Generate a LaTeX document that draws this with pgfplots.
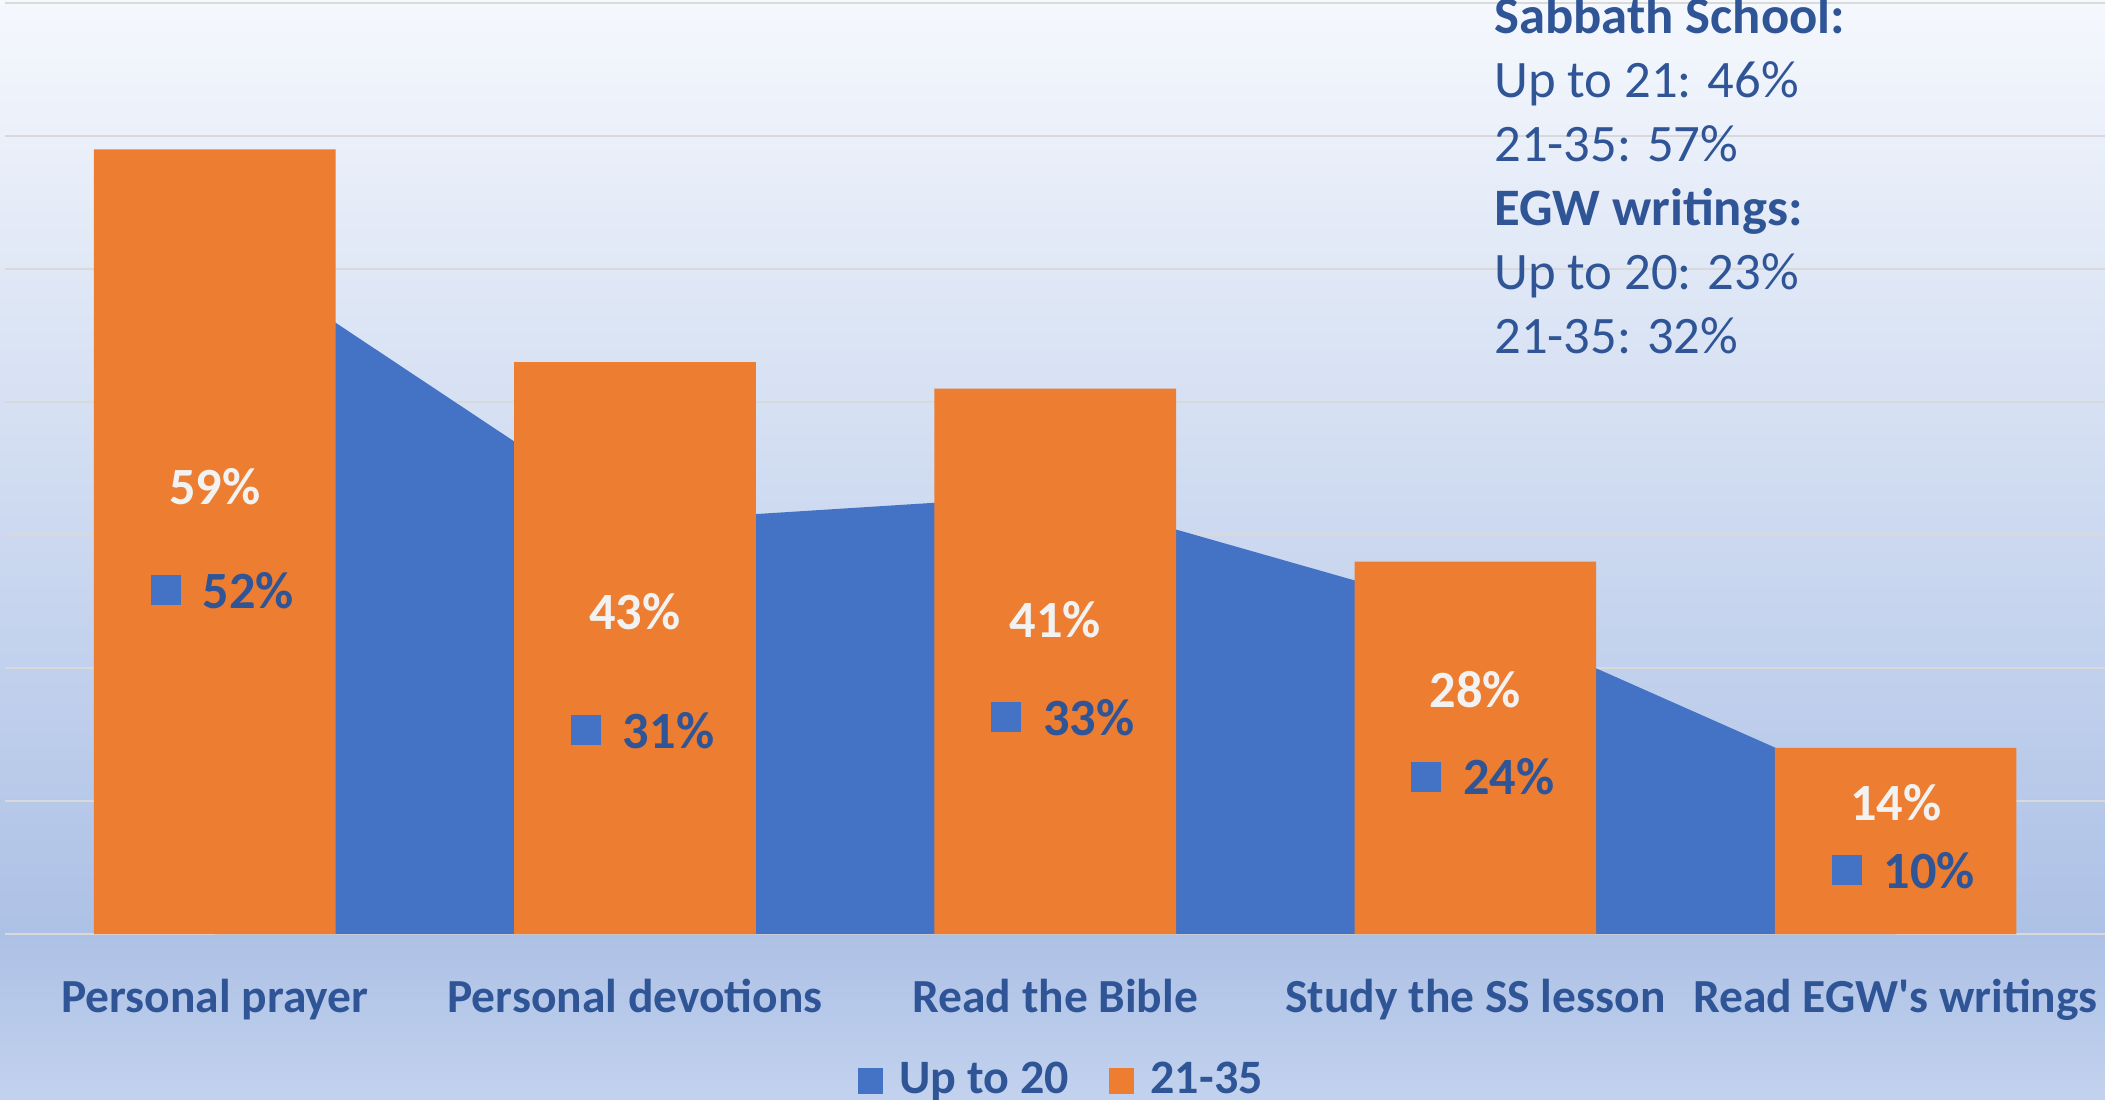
\documentclass[border=0pt]{standalone}
\usepackage{pgfplots}
\pgfplotsset{compat=1.18}
\usepackage{fontspec}
\setmainfont{Carlito}
\definecolor{myblue}{HTML}{4472C4}
\definecolor{myorange}{HTML}{ED7D31}
\definecolor{txtblue}{HTML}{2F5597}
\definecolor{gridc}{HTML}{D9D9D9}
\definecolor{bgtop}{HTML}{F5F8FD}
\definecolor{bgmid}{HTML}{ADC1E6}
\definecolor{bgbot}{HTML}{C2D2EE}
\begin{document}
\begin{tikzpicture}
\shade[top color=bgtop, bottom color=bgmid] (0pt,0pt) rectangle (631.5pt,-280.2pt);
\shade[top color=bgmid, bottom color=bgbot] (0pt,-280.2pt) rectangle (631.5pt,-329.7pt);
\begin{axis}[
  at={(1.41pt,-280.2pt)}, anchor=south west,
  scale only axis, width=630.3pt, height=279.3pt,
  xmin=-0.5, xmax=4.5, ymin=0, ymax=70,
  axis line style={draw=none},
  major tick length=0pt,
  ytick={0,10,...,70}, yticklabels={},
  ymajorgrids, grid style={gridc, line width=0.6pt},
  xtick={0,1,2,3,4},
  xticklabels={Personal prayer, Personal devotions, Read the Bible, Study the SS lesson, Read EGW\textquotesingle s writings},
  xticklabel style={font=\fontsize{14.25}{16}\selectfont\bfseries, text=txtblue, anchor=base, yshift=-23.4pt},
  legend columns=2,
  legend style={at={(0.504,-0.157)}, anchor=center, draw=none, fill=none,
    font=\fontsize{14.4}{16}\selectfont\bfseries, text=txtblue,
    /tikz/every odd column/.append style={column sep=3pt},
    /tikz/every even column/.append style={column sep=10pt}},
  legend image code/.code={\fill[#1] (0pt,-4.2pt) rectangle (7.5pt,3.8pt);},
]
\addplot[fill=myblue, draw=none] coordinates {(0,52) (1,31) (2,33) (3,24) (4,10)} \closedcycle;
\addlegendentry{Up to 20}
\addplot[ybar, bar width=0.575, fill=myorange, draw=none] coordinates {(0,59) (1,43) (2,41) (3,28) (4,14)};
\addlegendentry{21-35}
\begin{scope}[every node/.style={font=\fontsize{15.7}{18}\selectfont\bfseries, inner sep=0pt}]
\node[text=white!95!black] at (axis cs:0,33.6) {59\%};
\node[text=white!95!black] at (axis cs:1,24.2) {43\%};
\node[text=white!95!black] at (axis cs:2,23.6) {41\%};
\node[text=white!95!black] at (axis cs:3,18.4) {28\%};
\node[text=white!95!black] at (axis cs:4,9.9) {14\%};
\node[text=txtblue] at (axis cs:0.018,25.8) {\raisebox{1pt}{\textcolor{myblue}{\rule{9pt}{9pt}}}\hspace{6.6pt}52\%};
\node[text=txtblue] at (axis cs:1.018,15.3) {\raisebox{1pt}{\textcolor{myblue}{\rule{9pt}{9pt}}}\hspace{6.6pt}31\%};
\node[text=txtblue] at (axis cs:2.018,16.3) {\raisebox{1pt}{\textcolor{myblue}{\rule{9pt}{9pt}}}\hspace{6.6pt}33\%};
\node[text=txtblue] at (axis cs:3.018,11.8) {\raisebox{1pt}{\textcolor{myblue}{\rule{9pt}{9pt}}}\hspace{6.6pt}24\%};
\node[text=txtblue] at (axis cs:4.018,4.8) {\raisebox{1pt}{\textcolor{myblue}{\rule{9pt}{9pt}}}\hspace{6.6pt}10\%};
\end{scope}
\end{axis}
\begin{scope}[every node/.style={anchor=base west, inner sep=0pt, text=txtblue, font=\fontsize{15.8}{19}\selectfont}]
\node at (448.1pt,-9.9pt) {\bfseries Sabbath School:};
\node at (448.1pt,-29.3pt) {Up to 21: 46\%};
\node at (448.1pt,-48.5pt) {21-35: 57\%};
\node at (448.1pt,-67.5pt) {\bfseries EGW writings:};
\node at (448.1pt,-86.7pt) {Up to 20: 23\%};
\node at (448.1pt,-105.9pt) {21-35: 32\%};
\end{scope}
\pgfresetboundingbox
\path[use as bounding box] (0pt,0pt) rectangle (631.5pt,-329.7pt);
\end{tikzpicture}
\end{document}
